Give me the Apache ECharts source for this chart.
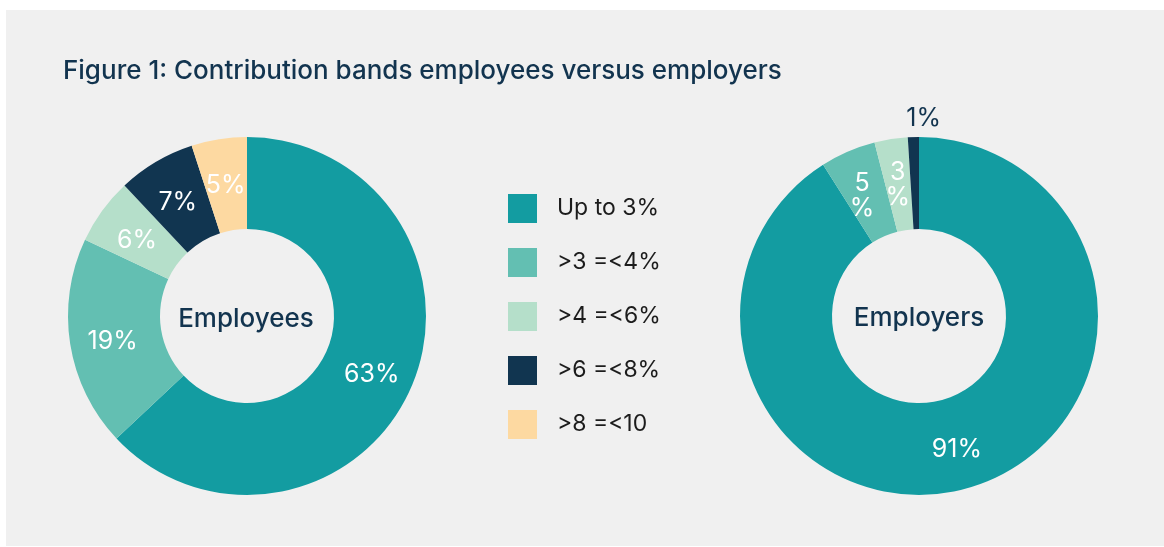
<!DOCTYPE html>
<html>
<head>
<meta charset="utf-8">
<script src="https://cdn.jsdelivr.net/npm/echarts@6/dist/echarts.min.js"></script>
<style>
  html, body { margin: 0; padding: 0; background: #ffffff; }
  #chart { width: 1164px; height: 547px; }
</style>
</head>
<body>
<div id="chart"></div>
<script>
// Contribution bands (share of members, %)
const bands = ['Up to 3%', '>3 =<4%', '>4 =<6%', '>6 =<8%', '>8 =<10'];
const bandColors = ['#139ca1', '#63bfb2', '#b5dfca', '#113550', '#fdd9a1'];
const employeeValues = [63, 19, 6, 7, 5];
const employerValues = [91, 5, 3, 1];

const FONT = 'Inter, "Noto Sans", sans-serif';
const NAVY = '#12344f';

function buildData(values) {
  return values.map((v, i) => ({
    name: bands[i],
    value: v,
    itemStyle: { color: bandColors[i] }
  }));
}

const employerData = buildData(employerValues);
// Narrow slices: value and % sign stacked
employerData[1].label = { formatter: '{c}\n%', lineHeight: 25 };
employerData[2].label = { formatter: '{c}\n%', lineHeight: 25 };
// Thinnest slice: label sits above the ring in dark text
employerData[3].label = { color: NAVY };

const pieLabel = {
  show: true,
  position: 'inside',
  formatter: '{c}%',
  color: '#ffffff',
  fontFamily: FONT,
  fontSize: 25,
  fontWeight: 400
};

const chart = echarts.init(document.getElementById('chart'), null, { renderer: 'canvas' });

chart.setOption({
  backgroundColor: '#ffffff',
  animation: false,
  graphic: [
    { type: 'rect', z: -10, shape: { x: 6, y: 10, width: 1158, height: 536 }, style: { fill: '#f0f0f0' } },
    { type: 'text', x: 246, y: 319, style: { text: 'Employees', fill: NAVY, font: '500 26px ' + FONT, textAlign: 'center', textVerticalAlign: 'middle' } },
    { type: 'text', x: 919, y: 318, style: { text: 'Employers', fill: NAVY, font: '500 26px ' + FONT, textAlign: 'center', textVerticalAlign: 'middle' } }
  ],
  title: {
    text: 'Figure 1: Contribution bands employees versus employers',
    left: 58,
    top: 53,
    textStyle: { color: NAVY, fontFamily: FONT, fontSize: 26, fontWeight: 500 }
  },
  legend: {
    orient: 'vertical',
    left: 508,
    top: 194,
    padding: 0,
    icon: 'rect',
    itemWidth: 29,
    itemHeight: 29,
    itemGap: 25,
    selectedMode: false,
    data: bands,
    textStyle: { color: '#1c1c1c', fontFamily: FONT, fontSize: 23, fontWeight: 400, padding: [0, 0, 0, 15] }
  },
  series: [
    {
      name: 'Employees',
      type: 'pie',
      center: [247, 316],
      radius: [87, 179],
      startAngle: 90,
      clockwise: true,
      avoidLabelOverlap: false,
      silent: true,
      label: pieLabel,
      labelLine: { show: false },
      labelLayout: { dy: 4 },
      data: buildData(employeeValues)
    },
    {
      name: 'Employers',
      type: 'pie',
      center: [919, 316],
      radius: [87, 179],
      startAngle: 90,
      clockwise: true,
      avoidLabelOverlap: false,
      silent: true,
      label: pieLabel,
      labelLine: { show: false },
      labelLayout: function (params) {
        if (params.dataIndex === 3) {
          return { dx: 9, dy: -62 };
        }
        if (params.dataIndex === 1) {
          return { dx: -3, dy: 5 };
        }
        return { dy: 3 };
      },
      data: employerData
    }
  ]
});
</script>
</body>
</html>
